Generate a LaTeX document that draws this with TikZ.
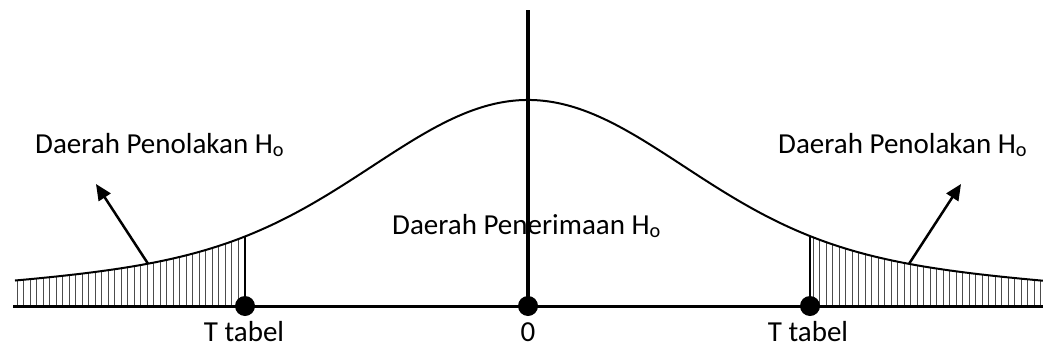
\documentclass[tikz,border=0pt]{standalone}
\usepackage{fontspec}
\setmainfont{Carlito}
\usetikzlibrary{arrows.meta}
\tikzset{declare function={gy(\t)=306-(149*exp(-0.5*((\t-528)/150)*((\t-528)/150))+57*exp(-0.5*((\t-528)/400)*((\t-528)/400)));}}
\begin{document}
\begin{tikzpicture}[x=1pt,y=-1pt,
  lbl/.style={font=\fontsize{29}{32}\selectfont, inner sep=0pt},
  dot/.style={circle, fill=black, minimum size=20pt, inner sep=0pt},
  axis/.style={line width=3pt},
  curve/.style={line width=2pt},
  hatch/.style={line width=0.8pt, black!70},
  pointer/.style={line width=2.5pt, -{Triangle[length=16pt,width=14pt]}}]
\useasboundingbox (0,0) rectangle (1043,348);
% hatching
\foreach \x in {17,23.5,...,243} {
  \draw[hatch] (\x,306) -- (\x,{gy(\x)});
}
\foreach \x in {813,819.5,...,1042} {
  \draw[hatch] (\x,306) -- (\x,{gy(\x)});
}
% curve
\draw[curve] plot[domain=15:1043, samples=200, smooth] (\x,{gy(\x)});
% axis
\coordinate (axL) at (13,306);
\coordinate (axR) at (1043,306);
\coordinate (vtop) at (528,10);
\node[dot] (t1) at (245,306) {};
\node[dot] (z) at (528,306) {};
\node[dot] (t2) at (810,306) {};
\coordinate (c1) at (245,{gy(245)});
\coordinate (c2) at (810,{gy(810)});
\draw[axis] (axL) -- (axR);
\draw[line width=4pt] (vtop) -- (z.center);
\draw[line width=2.5pt] (c1) -- (t1.center);
\draw[line width=2.5pt] (c2) -- (t2.center);
% arrows
\coordinate (a1s) at (148,{gy(148)});
\coordinate (a1e) at (96,184);
\coordinate (a2s) at (909,{gy(909)});
\coordinate (a2e) at (961,184);
\draw[pointer] (a1s) -- (a1e);
\draw[pointer] (a2s) -- (a2e);
% labels
\node[lbl, anchor=base west] (tl) at (35,153) {Daerah Penolakan H\textsubscript{o}};
\node[lbl, anchor=base west] (tr) at (778,153) {Daerah Penolakan H\textsubscript{o}};
\node[lbl, anchor=base west] (tm) at (392,234) {Daerah Penerimaan H\textsubscript{o}};
\node[lbl, anchor=base] (l1) at (244,341) {T tabel};
\node[lbl, anchor=base] (l0) at (528,341) {0};
\node[lbl, anchor=base] (l2) at (808,341) {T tabel};
\end{tikzpicture}
\end{document}
